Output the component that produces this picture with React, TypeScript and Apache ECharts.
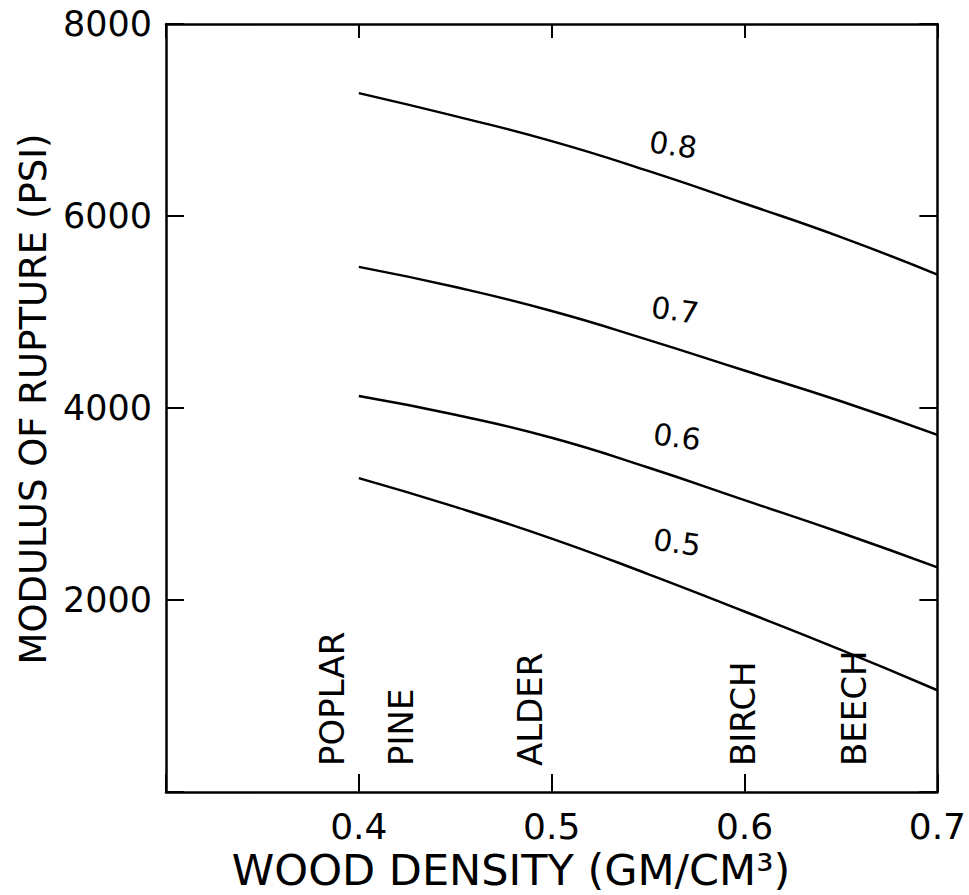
import React, { useEffect, useRef } from "react";
import * as echarts from "echarts";

const densities = [0.4, 0.45, 0.5, 0.55, 0.6, 0.65, 0.7];
const ratio08 = [7280, 7040, 6780, 6470, 6130, 5780, 5390];
const ratio07 = [5470, 5260, 5010, 4710, 4390, 4070, 3720];
const ratio06 = [4125, 3930, 3690, 3380, 3040, 2700, 2340];
const ratio05 = [3270, 2970, 2640, 2270, 1880, 1480, 1060];
const curveNames = ["0.8", "0.7", "0.6", "0.5"];
const curveLabelX = [0.563, 0.564, 0.565, 0.565];
const curveLabelY = [6740, 5020, 3700, 2600];
const species = ["POPLAR", "PINE", "ALDER", "BIRCH", "BEECH"];
const speciesDensity = [0.386, 0.422, 0.489, 0.599, 0.657];
const speciesBase = 270;
const xTitle = "WOOD DENSITY (GM/CM³)";
const yTitle = "MODULUS OF RUPTURE (PSI)";

const FONT = "DejaVu Sans";
const INK = "#000";

export default function App() {
  const ref = useRef<HTMLDivElement>(null);
  useEffect(() => {
    if (!ref.current) return;
    const chart = echarts.init(ref.current, null, { renderer: "svg" });
    const curves = [ratio08, ratio07, ratio06, ratio05];
    const lineSeries = curves.map((vals, i) => ({
      type: "line",
      name: curveNames[i],
      data: densities.map((d, j) => [d, vals[j]]),
      smooth: true,
      symbol: "none",
      lineStyle: { color: INK, width: 2.5 },
      xAxisIndex: 0,
      yAxisIndex: 0,
    }));
    const tickCommon = {
      show: true,
      inside: true,
      length: 18,
      lineStyle: { color: INK, width: 2 },
    };
    chart.setOption({
      animation: false,
      grid: { left: 166, top: 24, right: 28, bottom: 103, containLabel: false },
      xAxis: [
        {
          type: "value",
          min: 0.3,
          max: 0.7,
          interval: 0.1,
          position: "bottom",
          axisLine: { show: true, onZero: false, lineStyle: { color: INK, width: 2.5 } },
          axisTick: tickCommon,
          splitLine: { show: false },
          axisLabel: {
            color: INK,
            fontFamily: FONT,
            fontSize: 36,
            margin: 16,
            formatter: (v: number) => (v < 0.35 ? "" : v.toFixed(1)),
          },
        },
        {
          type: "value",
          min: 0.3,
          max: 0.7,
          interval: 0.1,
          position: "top",
          axisLine: { show: true, onZero: false, lineStyle: { color: INK, width: 2.5 } },
          axisTick: { ...tickCommon, length: 14 },
          splitLine: { show: false },
          axisLabel: { show: false },
        },
      ],
      yAxis: [
        {
          type: "value",
          min: 0,
          max: 8000,
          interval: 2000,
          position: "left",
          axisLine: { show: true, onZero: false, lineStyle: { color: INK, width: 2.5 } },
          axisTick: tickCommon,
          splitLine: { show: false },
          axisLabel: {
            color: INK,
            fontFamily: FONT,
            fontSize: 35,
            margin: 14,
            formatter: (v: number) => (v === 0 ? "" : String(v)),
          },
        },
        {
          type: "value",
          min: 0,
          max: 8000,
          interval: 2000,
          position: "right",
          axisLine: { show: true, onZero: false, lineStyle: { color: INK, width: 2.5 } },
          axisTick: tickCommon,
          splitLine: { show: false },
          axisLabel: { show: false },
        },
      ],
      series: [
        ...lineSeries,
        {
          type: "scatter",
          name: "curveLabels",
          symbolSize: 0,
          itemStyle: { opacity: 1 },
          data: curveNames.map((n, i) => ({ value: [curveLabelX[i], curveLabelY[i]], name: n })),
          label: {
            show: true,
            position: "inside",
            formatter: (p: any) => p.name,
            rotate: -8,
            color: INK,
            opacity: 1,
            fontFamily: FONT,
            fontSize: 30,
            align: "center",
            verticalAlign: "middle",
          },
        },
        {
          type: "scatter",
          name: "species",
          symbolSize: 0,
          itemStyle: { opacity: 1 },
          data: species.map((s, i) => ({ value: [speciesDensity[i], speciesBase], name: s })),
          label: {
            show: true,
            position: "inside",
            formatter: (p: any) => p.name,
            rotate: 90,
            color: INK,
            opacity: 1,
            fontFamily: FONT,
            fontSize: 34,
            align: "left",
            verticalAlign: "middle",
          },
        },
      ],
      graphic: [
        {
          type: "text",
          x: 511,
          y: 870,
          style: {
            text: xTitle,
            fill: INK,
            font: `43px "${FONT}"`,
            textAlign: "center",
            textVerticalAlign: "middle",
          },
        },
        {
          type: "text",
          x: 33,
          y: 399,
          rotation: Math.PI / 2,
          style: {
            text: yTitle,
            fill: INK,
            font: `37px "${FONT}"`,
            textAlign: "center",
            textVerticalAlign: "middle",
          },
        },
      ],
    });
    return () => chart.dispose();
  }, []);
  return <div ref={ref} style={{ width: 969, height: 895, position: "absolute", left: 0, top: 0 }} />;
}
